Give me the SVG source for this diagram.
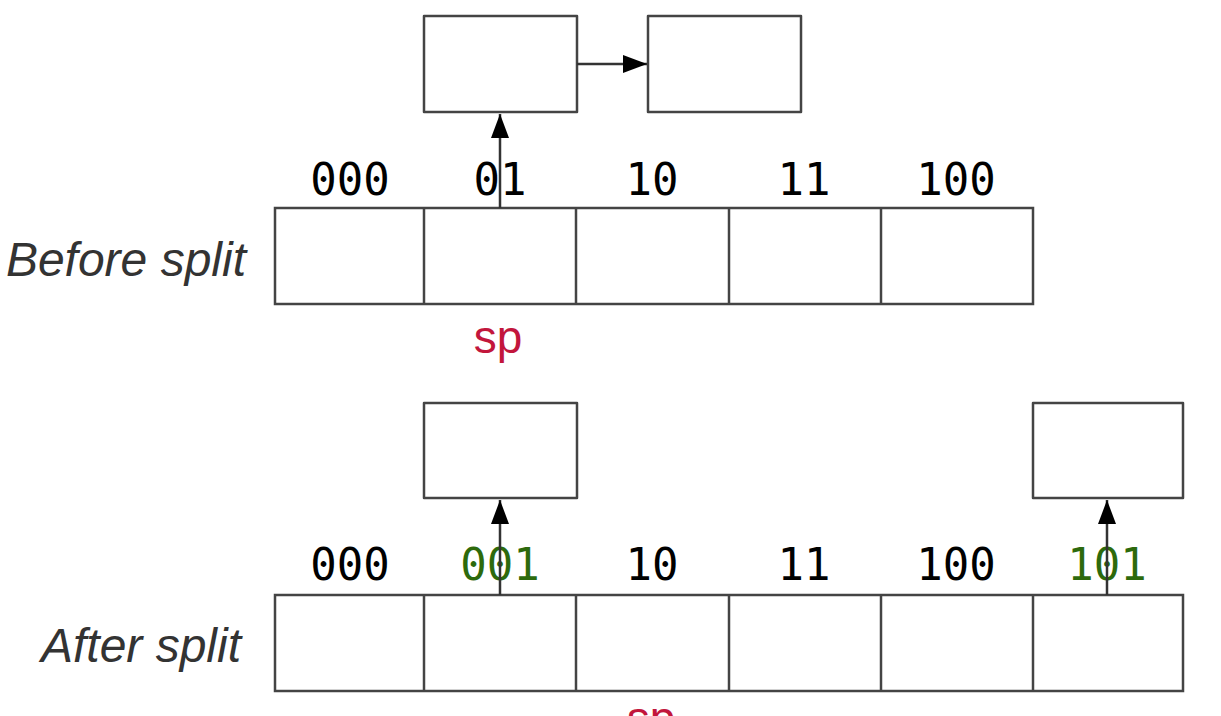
<svg xmlns="http://www.w3.org/2000/svg" width="1221" height="716" viewBox="0 0 1221 716">
<style>
.box{fill:#fff;stroke:#444;stroke-width:2.5;stroke-linejoin:round}
.cell{fill:none;stroke:#444;stroke-width:2.5}
.conn{stroke:#333;stroke-width:2.5;fill:none}
.bits{font-family:"DejaVu Sans Mono","Liberation Mono",monospace;font-size:44px;text-anchor:middle;fill:#000}
.g{fill:#2d6a0c}
.cap{font-family:"Liberation Sans",Arial,sans-serif;font-style:italic;font-size:48px;fill:#333;text-anchor:end}
.sp{font-family:"Liberation Sans",Arial,sans-serif;font-size:46px;fill:#c2163c;text-anchor:middle}
</style>
<defs>
<marker id="ah2" viewBox="0 0 24 18" refX="24" refY="9" markerWidth="24" markerHeight="18" markerUnits="userSpaceOnUse" orient="auto">
<path d="M0,0 L24,9 L0,18 z" fill="#000"/>
</marker>
</defs>

<g id="before">
<text class="cap" x="246" y="276">Before split</text>
<g id="before-array">
<rect class="cell" x="275" y="208" width="758" height="96"/>
<line class="cell" x1="424" y1="208" x2="424" y2="304"/>
<line class="cell" x1="576" y1="208" x2="576" y2="304"/>
<line class="cell" x1="729" y1="208" x2="729" y2="304"/>
<line class="cell" x1="881" y1="208" x2="881" y2="304"/>
</g>
<g id="before-labels">
<text class="bits" x="350" y="195">000</text>
<text class="bits" x="500" y="195">01</text>
<text class="bits" x="652" y="195">10</text>
<text class="bits" x="804" y="195">11</text>
<text class="bits" x="956" y="195">100</text>
</g>
<g id="bucket-a"><rect class="box" x="424" y="16" width="153" height="96"/></g>
<g id="bucket-b"><rect class="box" x="648" y="16" width="153" height="96"/></g>
<text class="sp" x="498" y="353">sp</text>
</g>

<g id="after">
<text class="cap" x="241" y="662">After split</text>
<g id="after-array">
<rect class="cell" x="275" y="595" width="908" height="96"/>
<line class="cell" x1="424" y1="595" x2="424" y2="691"/>
<line class="cell" x1="576" y1="595" x2="576" y2="691"/>
<line class="cell" x1="729" y1="595" x2="729" y2="691"/>
<line class="cell" x1="881" y1="595" x2="881" y2="691"/>
<line class="cell" x1="1033" y1="595" x2="1033" y2="691"/>
</g>
<g id="after-labels">
<text class="bits" x="350" y="580">000</text>
<text class="bits g" x="500" y="580">001</text>
<text class="bits" x="652" y="580">10</text>
<text class="bits" x="804" y="580">11</text>
<text class="bits" x="956" y="580">100</text>
<text class="bits g" x="1107" y="580">101</text>
</g>
<g id="bucket-c"><rect class="box" x="424" y="403" width="153" height="95"/></g>
<g id="bucket-d"><rect class="box" x="1033" y="403" width="150" height="95"/></g>
<text class="sp" x="651" y="734">sp</text>
</g>

<g id="connectors">
<line class="conn" x1="577" y1="64" x2="647" y2="64" marker-end="url(#ah2)"/>
<line class="conn" x1="500" y1="208" x2="500" y2="114" marker-end="url(#ah2)"/>
<line class="conn" x1="500" y1="595" x2="500" y2="500" marker-end="url(#ah2)"/>
<line class="conn" x1="1107" y1="595" x2="1107" y2="500" marker-end="url(#ah2)"/>
</g>
</svg>
